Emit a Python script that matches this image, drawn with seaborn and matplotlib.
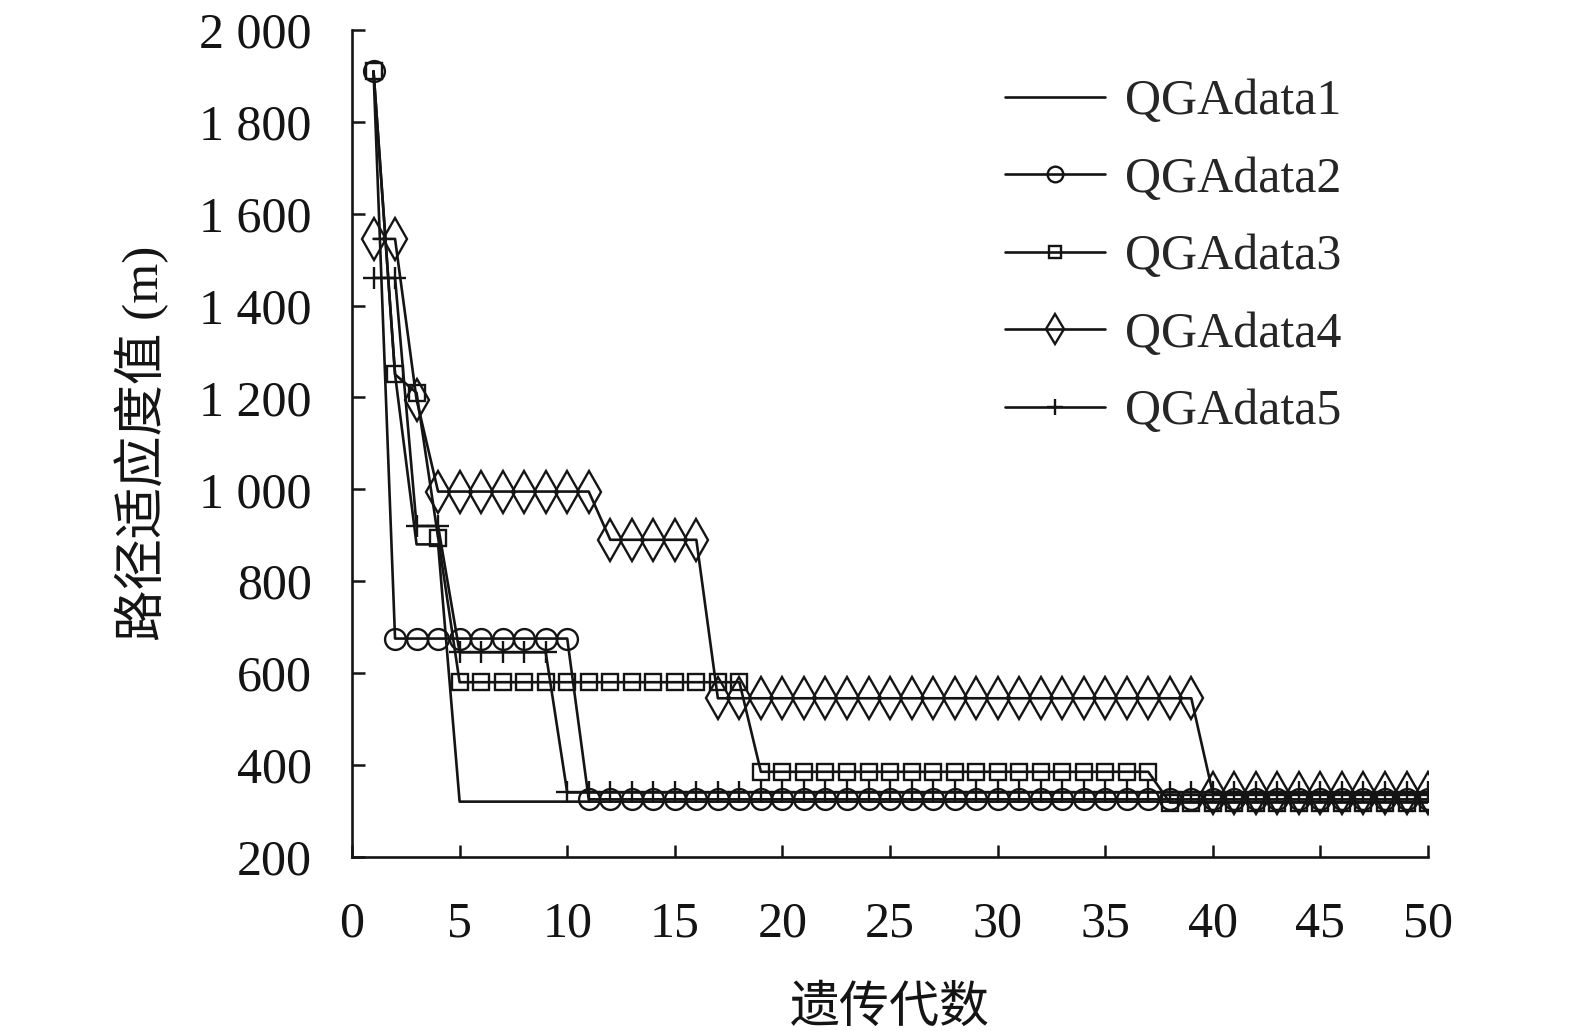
import matplotlib
matplotlib.use("Agg")
import matplotlib.pyplot as plt
import seaborn as sns
import numpy as np
from matplotlib.ticker import FixedLocator, FuncFormatter

# generations 1..50
gens = list(range(1, 51))

qga1 = [1910, 1250, 880, 880, 320, 320, 320, 320, 320, 320,
        320, 320, 320, 320, 320, 320, 320, 320, 320, 320,
        320, 320, 320, 320, 320, 320, 320, 320, 320, 320,
        320, 320, 320, 320, 320, 320, 320, 320, 320, 320,
        320, 320, 320, 320, 320, 320, 320, 320, 320, 320]
qga2 = [1910, 675, 675, 675, 675, 675, 675, 675, 675, 675,
        325, 325, 325, 325, 325, 325, 325, 325, 325, 325,
        325, 325, 325, 325, 325, 325, 325, 325, 325, 325,
        325, 325, 325, 325, 325, 325, 325, 325, 325, 325,
        325, 325, 325, 325, 325, 325, 325, 325, 325, 325]
qga3 = [1910, 1250, 1210, 895, 580, 580, 580, 580, 580, 580,
        580, 580, 580, 580, 580, 580, 580, 580, 385, 385,
        385, 385, 385, 385, 385, 385, 385, 385, 385, 385,
        385, 385, 385, 385, 385, 385, 385, 318, 318, 318,
        318, 318, 318, 318, 318, 318, 318, 318, 318, 318]
qga4 = [1545, 1545, 1195, 995, 995, 995, 995, 995, 995, 995,
        995, 890, 890, 890, 890, 890, 545, 545, 545, 545,
        545, 545, 545, 545, 545, 545, 545, 545, 545, 545,
        545, 545, 545, 545, 545, 545, 545, 545, 545, 338,
        338, 338, 338, 338, 338, 338, 338, 338, 338, 338]
qga5 = [1460, 1460, 920, 920, 645, 645, 645, 645, 645, 340,
        340, 340, 340, 340, 340, 340, 340, 340, 340, 340,
        340, 340, 340, 340, 340, 340, 340, 340, 340, 340,
        340, 340, 340, 340, 340, 340, 340, 340, 340, 340,
        340, 340, 340, 340, 340, 340, 340, 340, 340, 340]

names = ["QGAdata1", "QGAdata2", "QGAdata3", "QGAdata4", "QGAdata5"]
y_ticks = [200, 400, 600, 800, 1000, 1200, 1400, 1600, 1800, 2000]
x_ticks = [0, 5, 10, 15, 20, 25, 30, 35, 40, 45, 50]

sns.set_style("ticks")
plt.rcParams["font.family"] = ["Liberation Serif", "Noto Sans CJK SC"]
plt.rcParams["xtick.direction"] = "in"
plt.rcParams["ytick.direction"] = "in"

ink = "#141414"

fig, ax = plt.subplots(figsize=(15.75, 10.31), dpi=100)
fig.subplots_adjust(left=0.2235, right=0.9067, top=0.971, bottom=0.169)

styles = [
    dict(marker=None),
    dict(marker="o", ms=15),
    dict(marker="s", ms=12),
    dict(marker="d", ms=21),
    dict(marker="+", ms=16),
]
series = [qga1, qga2, qga3, qga4, qga5]
for vals, name, st in zip(series, names, styles):
    kw = dict(color=ink, lw=1.9, label=name)
    if st["marker"] is not None:
        kw.update(marker=st["marker"], ms=st["ms"], mfc="none",
                  mec=ink, mew=1.7)
    sns.lineplot(x=gens, y=vals, ax=ax, **kw)

ax.set_xlim(0, 50)
ax.set_ylim(200, 2000)
ax.xaxis.set_major_locator(FixedLocator(x_ticks))
ax.yaxis.set_major_locator(FixedLocator(y_ticks))
ax.yaxis.set_major_formatter(FuncFormatter(
    lambda v, p: f"{int(v):,}".replace(",", " ")))
ax.tick_params(axis="both", labelsize=36, length=9, width=1.8,
               colors=ink)
ax.tick_params(axis="x", pad=32)
ax.tick_params(axis="y", pad=29)
for s in ["top", "right"]:
    ax.spines[s].set_visible(False)
for s in ["left", "bottom"]:
    ax.spines[s].set_linewidth(1.9)
    ax.spines[s].set_color(ink)

ax.set_xlabel("遗传代数", fontsize=36, labelpad=28, color=ink)
ax.set_ylabel("路径适应度值 (m)", fontsize=37, labelpad=22, color=ink)

ax.legend(loc="upper left", bbox_to_anchor=(0.588, 0.965), frameon=False,
          fontsize=36, handlelength=2.0, handletextpad=0.4,
          labelspacing=0.62, borderaxespad=0, markerscale=0.75)

fig.savefig("out.png", dpi=100)
